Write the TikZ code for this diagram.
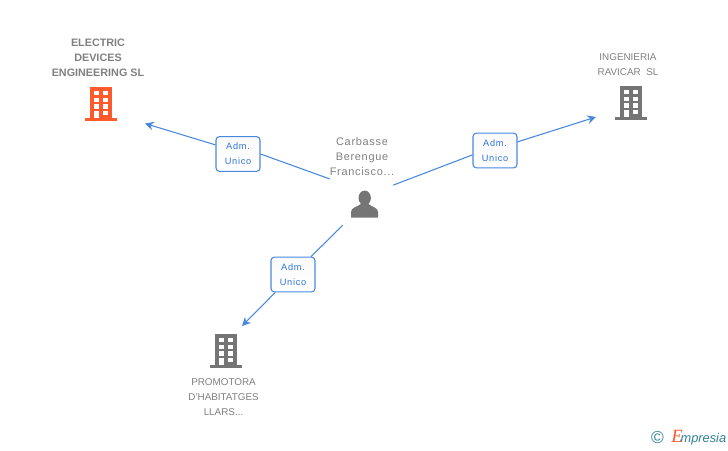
\documentclass[tikz,border=0pt]{standalone}
\usepackage{fontspec}
\setmainfont{Liberation Sans}
\newfontfamily\spaced[LetterSpace=6.5]{Liberation Sans}
\newfontfamily\admfont[LetterSpace=8]{Liberation Sans}
\newfontfamily\logofont{Liberation Serif}
\usetikzlibrary{arrows.meta}

\definecolor{linkblue}{HTML}{4A88E0}
\definecolor{admblue}{HTML}{2F74DC}
\definecolor{textgray}{HTML}{808080}
\definecolor{iconorange}{HTML}{FF5A2B}
\definecolor{icongray}{HTML}{757575}
\definecolor{logoteal}{HTML}{2F7F96}

\tikzset{
  building/.pic={
    \fill[pic actions] (-11,-17) rectangle (11,14);
    \fill[pic actions] (-16,14) rectangle (16,17);
    \foreach \y in {-13,-6.5,0.2} {
      \fill[white] (-7,\y) rectangle +(4.7,4.4);
      \fill[white] (2.3,\y) rectangle +(4.9,4.4);
    }
    \fill[white] (2.3,7) rectangle +(4.9,4.4);
    \fill[white] (-7,7) rectangle (-2.3,14);
  }
}

\begin{document}
\begin{tikzpicture}[x=0.75pt, y=-0.75pt, node distance=15pt,
                    main node/.style={font=\fontsize{7.4}{11.25}\selectfont,text=textgray,align=center,inner sep=0pt},
                    person node/.style={font=\fontsize{8.2}{11.25}\spaced,text=textgray,align=center,inner sep=0pt},
                    bold node/.style={font=\fontsize{8.1}{11.25}\bfseries,text=textgray,align=center,inner sep=0pt},
                    adm node/.style={draw=linkblue,rounded corners=2.5pt,line width=0.8pt,top color=black!2,bottom color=white,
                                     text=admblue,font=\fontsize{6.9}{11.25}\admfont,align=center,inner sep=0pt,
                                     minimum width=33pt,minimum height=26pt},
                    link/.style={draw=linkblue,line width=0.8pt},
                    tip/.style={-{Stealth[length=6.5pt,width=6.5pt]}}]

\useasboundingbox (0,0) rectangle (728,450);

\node[bold node] (electric) at (98,57.5) {ELECTRIC\\DEVICES\\ENGINEERING SL};
  \node[main node] (ingenieria) at (628,65) {INGENIERIA\\RAVICAR\ \ SL};
    \node[main node] (promotora) at (223.5,397) {PROMOTORA\\D'HABITATGES\\LLARS...};
      \node[person node] (name) at (362,157) {Carbasse\\Berengue\\Francisco...};
        \node[minimum width=47.25pt,minimum height=34.5pt,inner sep=0pt] (carbasse) at (361.5,202) {};

\pic[fill=iconorange] at (101,104) {building};
\pic[fill=icongray] at (631,103) {building};
\pic[fill=icongray] at (226,351) {building};

% person icon
\fill[icongray] (364.7,198) ellipse (6.2 and 7.4);
\fill[icongray] (351,217.7) -- (351,212) .. controls (351,207.5) and (357,207) .. (361,204)
  -- (368.5,204) .. controls (372,207) and (378,207.5) .. (378,212) -- (378,217.7) -- cycle;

\node[adm node] (adm1) at (238,154) {Adm.\\Unico};
  \node[adm node] (adm2) at (495,150.5) {Adm.\\Unico};
    \node[adm node] (adm3) at (293,274.5) {Adm.\\Unico};

\coordinate (tip1) at (145,123.5);
\coordinate (tip2) at (596,117);
\coordinate (tip3) at (242,326);

\draw[link] (carbasse.144) -- (adm1.east);
\draw[link,tip] (adm1.158) -- (tip1);
\draw[link] (carbasse.28) -- (adm2.191);
\draw[link,tip] (adm2.21) -- (tip2);
\draw[link] (carbasse.231) -- (adm3);
\draw[link,tip] (adm3) -- (tip3);

% logo
\node[inner sep=0pt,text=logoteal,font=\fontsize{13}{13}\selectfont] (copyr) at (657.5,438) {©};
\node[inner sep=0pt,anchor=base west,text=logoteal,font=\fontsize{9.6}{9.6}\itshape] (logo) at (671,442.5)
  {{\color{iconorange}\fontsize{14}{14}\logofont\itshape E}\kern-1.5pt mpresia};

\end{tikzpicture}
\end{document}
